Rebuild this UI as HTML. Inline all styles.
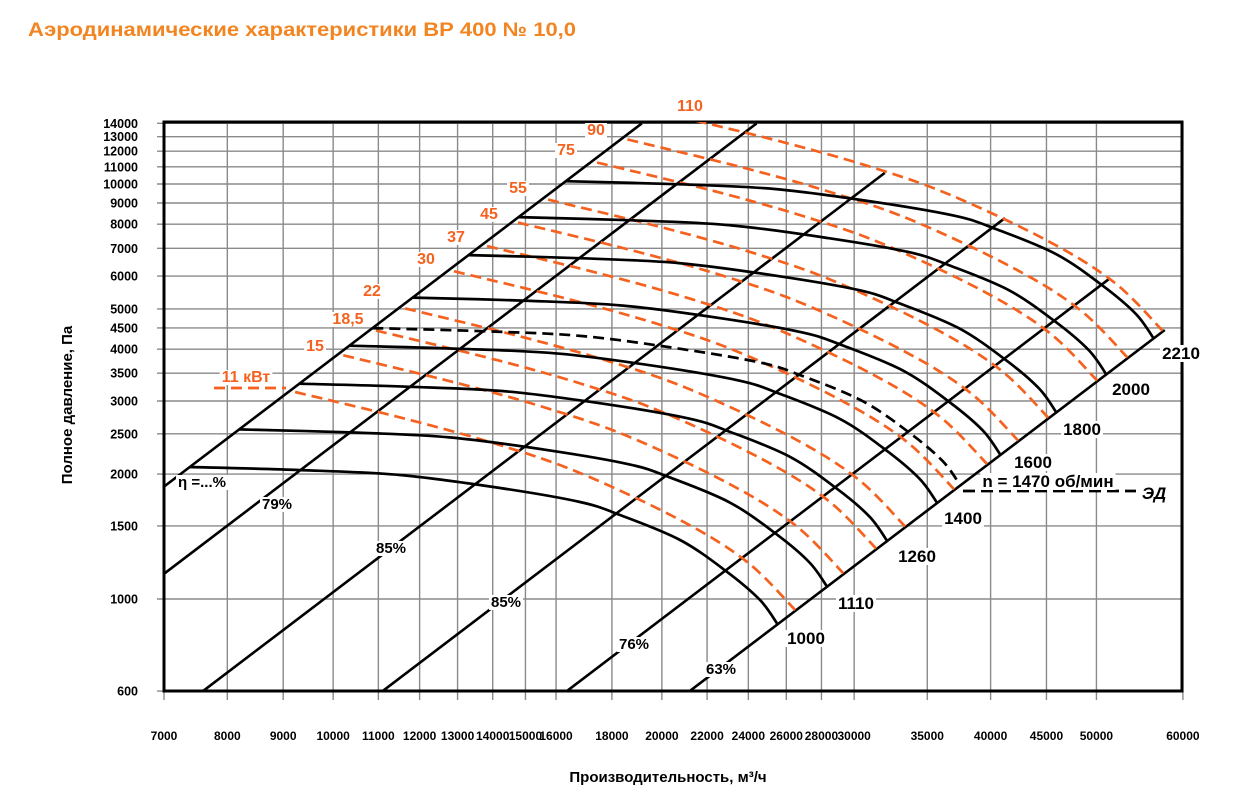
<!DOCTYPE html>
<html><head><meta charset="utf-8"><style>
html,body{margin:0;padding:0;background:#fff;}
svg{display:block;font-family:"Liberation Sans",Arial,sans-serif;}
</style></head><body>
<svg id="chart" width="1242" height="804" viewBox="0 0 1242 804">
<text x="28" y="36" font-size="19.5" font-weight="bold" fill="#F28522" textLength="548" lengthAdjust="spacingAndGlyphs">Аэродинамические характеристики ВР 400 № 10,0</text>
<g id="grid"></g>
<g id="curves"></g>
<g id="labels"></g>
<text x="668" y="782" font-size="15" font-weight="bold" text-anchor="middle">Производительность, м³/ч</text>
<text transform="translate(72,405) rotate(-90)" font-size="15" font-weight="bold" text-anchor="middle">Полное давление, Па</text>
</svg>
<script>
// ---- data ----
const xTicks = [7000,8000,9000,10000,11000,12000,13000,14000,15000,16000,18000,20000,22000,24000,26000,28000,30000,35000,40000,45000,50000,60000];
const yTicks = [600,1000,1500,2000,2500,3000,3500,4000,4500,5000,6000,7000,8000,9000,10000,11000,12000,13000,14000];
// base fan curve at 1000 rpm (flow m3/h, pressure Pa)
const baseFlow = [7390,9325,11515,14220,16830,18310,20785,22950,24600,25550];
const basePress = [2080,2045,1990,1851,1713,1594,1387,1162,994,866];
const rpmValues = [1000,1110,1260,1400,1470,1600,1800,2000,2210];
const rpmLabels = ['1000','1110','1260','1400','n = 1470 об/мин','1600','1800','2000','2210'];
// base power line (11 kW)
const powerFlow = [9229,11760,14200,16830,20785,23940,26490];
const powerPress = [3154,2700,2350,2012,1550,1228,941];
const powerLabels = ['11 кВт','15','18,5','22','30','37','45','55','75','90','110'];
const powerRatio = [1,1.107,1.186,1.261,1.398,1.499,1.600,1.705,1.89,2.015,2.17];
// efficiency lines (P ~ Q^2): start flow, start pressure, end flow
const effLabels = ['η =...%','79%','85%','85%','76%','63%'];
const effFlow0 = [7000,7000,7600,11100,16370,21210];
const effPress0 = [1866,1150,600,600,600,600];
const effFlow1 = [19170,24420,32000,41230,51300,57750];

// ---- scales ----
const L=164,R=1182,T=122,B=691;
const X=q=>164+1092*Math.log10(q/7000);
const Y=p=>599-415*Math.log10(p/1000);
const NS='http://www.w3.org/2000/svg';
function mk(tag,attrs,parent){const e=document.createElementNS(NS,tag);for(const k in attrs)e.setAttribute(k,attrs[k]);parent.appendChild(e);return e;}
const svg=document.getElementById('chart');
const grid=document.getElementById('grid'),curves=document.getElementById('curves'),labels=document.getElementById('labels');

const defs=mk('defs',{},svg);
const cp=mk('clipPath',{id:'plotclip'},defs);
mk('rect',{x:L,y:T,width:R-L,height:B-T},cp);
curves.setAttribute('clip-path','url(#plotclip)');

xTicks.forEach(v=>{
  const x=X(v);
  const ln=mk('line',{x1:x,y1:T,x2:x,y2:B+9,stroke:'#8a8a8a','stroke-width':1.4},grid);
  
  
  const t=mk('text',{x:x,y:740,'font-size':12,'font-weight':'bold','text-anchor':'middle'},labels);
  t.textContent=v;
  
  
});
yTicks.forEach(v=>{
  const y=Y(v);
  const ln=mk('line',{x1:L-7,y1:y,x2:R,y2:y,stroke:'#8a8a8a','stroke-width':1.4},grid);
  
  
  const t=mk('text',{x:138,y:y+4.5,'font-size':12.5,'font-weight':'bold','text-anchor':'end'},labels);
  t.textContent=v;
  
  
});
const frame=mk('rect',{x:L,y:T,width:R-L,height:B-T,fill:'none',stroke:'#000','stroke-width':3},grid);



function smooth(pts){
  let d='M'+pts[0][0].toFixed(1)+','+pts[0][1].toFixed(1);
  for(let i=0;i<pts.length-1;i++){
    const p0=pts[i-1]||pts[i],p1=pts[i],p2=pts[i+1],p3=pts[i+2]||p2;
    const c1=[p1[0]+(p2[0]-p0[0])/6,p1[1]+(p2[1]-p0[1])/6];
    const c2=[p2[0]-(p3[0]-p1[0])/6,p2[1]-(p3[1]-p1[1])/6];
    d+='C'+c1[0].toFixed(1)+','+c1[1].toFixed(1)+' '+c2[0].toFixed(1)+','+c2[1].toFixed(1)+' '+p2[0].toFixed(1)+','+p2[1].toFixed(1);
  }
  return d;
}

effLabels.forEach((lab,i)=>{
  const q0=effFlow0[i],p0=effPress0[i],q1=effFlow1[i];
  const p1=p0*(q1/q0)*(q1/q0);
  const ln=mk('line',{x1:X(q0),y1:Y(p0),x2:X(q1),y2:Y(p1),stroke:'#000','stroke-width':2.6},curves);
  
  
});

powerRatio.forEach((k,i)=>{
  const pts=powerFlow.map((q,j)=>[X(q*k),Y(powerPress[j]*k*k)]);
  const p=mk('path',{d:smooth(pts),fill:'none',stroke:'#F5621F','stroke-width':2.7,'stroke-dasharray':'11 6'},curves);
  
  
});

rpmValues.forEach((n,i)=>{
  const k=n/1000;
  const pts=baseFlow.map((q,j)=>[X(q*k),Y(basePress[j]*k*k)]);
  const attrs={d:smooth(pts),fill:'none',stroke:'#000','stroke-width':2.7};
  if(n===1470){attrs['stroke-dasharray']='11 6';}
  const p=mk('path',attrs,curves);
  
  
});

const l1=mk('line',{x1:214,y1:388,x2:286,y2:388,stroke:'#F5621F','stroke-width':2.7,'stroke-dasharray':'11 6'},labels);


const l2=mk('line',{x1:963,y1:491,x2:1136,y2:491,stroke:'#000','stroke-width':2.7,'stroke-dasharray':'12 6'},labels);



function label(txt,x,y,size,color,name,anchor){
  const t=mk('text',{x:x,y:y,'font-size':size,'font-weight':'bold',fill:color,'text-anchor':anchor||'middle'},labels);
  t.textContent=txt;
  
  
  const bb=t.getBBox();
  const r=document.createElementNS(NS,'rect');
  r.setAttribute('x',bb.x-2);r.setAttribute('y',bb.y+1);r.setAttribute('width',bb.width+4);r.setAttribute('height',bb.height-2);r.setAttribute('fill','#fff');
  labels.insertBefore(r,t);
  return t;
}
const pPos=[[246,382],[315,351],[348,324],[372,296],[426,264],[456,242],[489,219],[518,193],[566,155],[596,135],[690,111]];
powerLabels.forEach((s,i)=>label(s,pPos[i][0],pPos[i][1],16,'#F5621F','power-label'));
const rPos=[[806,644],[856,609],[917,562],[963,524],[1048,487],[1033,468],[1082,435],[1131,395],[1181,359]];
rpmLabels.forEach((s,i)=>label(s,rPos[i][0],rPos[i][1],17,'#000','rpm-label'));
const ePos=[[202,487],[277,509],[391,553],[506,607],[634,649],[721,674]];
effLabels.forEach((s,i)=>label(s,ePos[i][0],ePos[i][1],15,'#000','efficiency-label'));
label('ЭД',1154,499,17,'#000','motor-label').setAttribute('font-style','italic');
</script>
</body></html>
